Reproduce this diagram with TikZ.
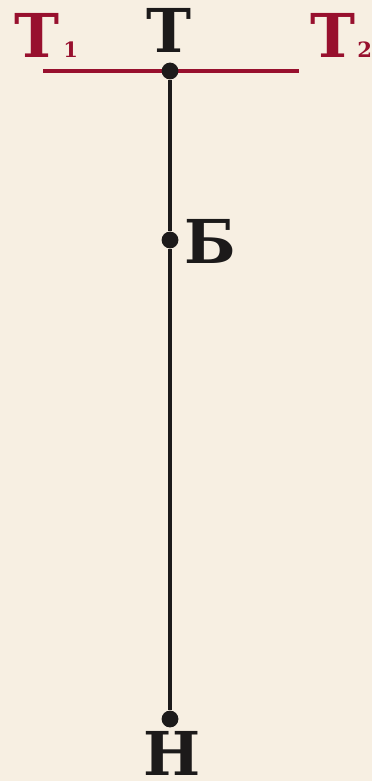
\documentclass[tikz,border=0pt]{standalone}
\usepackage{fontspec}
\setmainfont{DejaVu Serif}
\usetikzlibrary{positioning}
\definecolor{paper}{RGB}{247,239,226}
\definecolor{wine}{RGB}{152,16,46}
\definecolor{ink}{RGB}{28,26,26}

\begin{document}
\begin{tikzpicture}[x=0.025cm,y=-0.025cm,
  dot/.style={circle,fill=ink,inner sep=0pt,minimum size=0.42cm},
  wire/.style={draw=ink,line width=3.2pt},
  bar/.style={draw=wine,line width=3.2pt},
  lbl/.style={font=\bfseries\fontsize{43}{43}\selectfont,inner sep=0pt,anchor=base,text=ink},
  idx/.style={font=\bfseries\fontsize{15}{15}\selectfont,inner sep=0pt,anchor=base west,text=wine}]
\fill[paper] (0,0) rectangle (372,781);
\useasboundingbox (0,0) rectangle (372,781);

% red bar
\coordinate (barL) at (43,71);
\coordinate (barR) at (299,71);
\draw[bar] (barL) -- (barR);

% points on the line
\node[dot] (T) at (170,71) {};
\node[dot] (B) at (170,240) {};
\node[dot] (N) at (170,719) {};
\draw[wire] (T) -- (B) -- (N);

% labels
\node[lbl] (lT) at (169,53) {Т};
\node[lbl,text=wine] (lT1) at (36.5,58) {Т};
\node[idx] (i1) at (63,58) {1};
\node[lbl,text=wine] (lT2) at (333,58) {Т};
\node[idx] (i2) at (357,58) {2};
\node[lbl] (lB) at (210.5,263) {Б};
\node[lbl] (lN) at (172.5,775) {Н};

\end{tikzpicture}
\end{document}
